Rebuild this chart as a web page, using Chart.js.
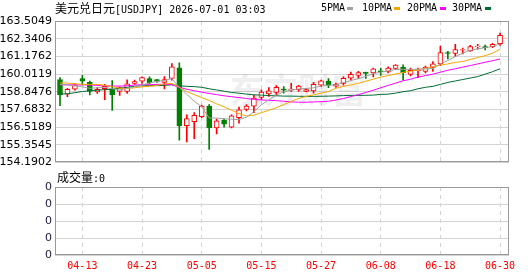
<!DOCTYPE html>
<html lang="zh-CN">
<head>
<meta charset="UTF-8">
<title>美元兑日元 USDJPY</title>
<script src="https://cdn.jsdelivr.net/npm/chart.js@4"></script>
<style>
    body { margin: 0; background: #fff; width: 530px; height: 276px; position: relative; overflow: hidden; }
    canvas { position: absolute; left: 0; }
    #main { top: 0; }
    #vol { top: 170px; }
    .lbl { position: absolute; white-space: nowrap; font-family: "DejaVu Sans Mono", monospace; font-size: 10px; line-height: 14px; color: #000; z-index: 2; }
    .cjk { font-family: "Noto Sans CJK SC", sans-serif; font-size: 12px; }
    .sw { position: absolute; top: 7px; width: 6px; height: 3px; z-index: 2; }
</style>
</head>
<body>
<canvas id="main" width="530" height="172"></canvas>
<canvas id="vol" width="530" height="106"></canvas>

<div class="lbl" style="left:55px; top:1px;"><span class="cjk">美元兑日元</span>[USDJPY] 2026-07-01 03:03</div>
<div class="lbl" style="left:321px; top:1px;">5PMA</div><div class="sw" style="left:347px; background:#a0a0a0;"></div>
<div class="lbl" style="left:362px; top:1px;">10PMA</div><div class="sw" style="left:394px; background:#f5a700;"></div>
<div class="lbl" style="left:407px; top:1px;">20PMA</div><div class="sw" style="left:440px; background:#ff00ff;"></div>
<div class="lbl" style="left:452px; top:1px;">30PMA</div><div class="sw" style="left:485px; background:#006b33;"></div>
<div class="lbl" style="left:57px; top:170px;"><span class="cjk">成交量</span>:0</div>

<script>
// trading days shown
const dates = ['04-08','04-09','04-10','04-13','04-14','04-15','04-16','04-17','04-20','04-21',
    '04-22','04-23','04-24','04-27','04-28','04-29','04-30','05-01','05-04','05-05',
    '05-06','05-07','05-08','05-11','05-12','05-13','05-14','05-15','05-18','05-19',
    '05-20','05-21','05-22','05-25','05-26','05-27','05-28','05-29','06-01','06-02',
    '06-03','06-04','06-05','06-08','06-09','06-10','06-11','06-12','06-15','06-16',
    '06-17','06-18','06-19','06-22','06-23','06-24','06-25','06-26','06-29','06-30'];

const xTickLabels = ['04-13','04-23','05-05','05-15','05-27','06-08','06-18','06-30'];
const yTickLabels = ['154.1902','155.3545','156.5189','157.6832','158.8476','160.0119','161.1762','162.3406','163.5049'];
const volTickLabels = ['0','0','0','0','0'];

const open = [159.651,158.687,159.008,159.715,159.458,158.835,159.053,159.027,158.860,158.860,
    159.393,159.541,159.715,159.650,159.458,159.715,160.422,156.612,156.869,157.210,
    157.897,156.458,156.972,156.503,157.145,157.678,157.897,158.475,158.706,158.796,
    159.027,158.944,158.963,158.860,158.899,159.284,159.541,159.220,159.393,159.734,
    159.927,160.120,160.081,160.229,160.184,160.377,160.466,159.991,160.229,160.184,
    160.441,160.678,161.430,161.366,161.578,161.533,161.816,161.816,161.816,162.008];
const high = [159.779,159.073,159.374,159.927,159.541,159.117,159.329,159.586,159.156,159.631,
    159.607,159.824,159.824,159.670,159.843,160.698,160.743,157.319,157.466,157.961,
    158.000,157.036,157.036,157.319,157.833,158.000,158.603,158.963,159.117,159.246,
    159.181,159.393,159.265,159.073,159.458,159.606,159.715,159.413,159.824,160.145,
    160.184,160.140,160.402,160.402,160.486,160.634,160.614,160.402,160.402,160.531,
    160.826,161.854,161.514,161.963,161.726,161.899,161.963,161.918,162.028,162.715];
const low = [157.935,158.514,158.944,159.329,158.642,158.732,158.321,157.614,158.603,158.732,
    159.329,159.393,159.374,159.458,159.027,159.606,155.648,155.539,155.751,157.145,
    155.045,156.072,156.503,156.458,156.779,157.576,157.466,158.321,158.539,158.603,
    158.751,158.860,158.860,158.835,158.751,159.181,159.117,159.137,159.284,159.606,
    159.715,159.715,159.824,159.927,160.081,160.312,159.606,159.888,159.779,160.081,
    160.184,160.569,161.000,161.173,161.340,161.494,161.642,161.597,161.751,161.899];
const close = [158.642,159.008,159.284,159.541,158.860,159.008,159.201,158.642,159.117,159.374,
    159.522,159.779,159.438,159.522,159.650,160.486,156.612,157.081,157.293,157.897,
    156.458,156.933,156.715,157.255,157.659,157.897,158.430,158.816,158.899,159.137,
    158.944,159.027,159.220,158.989,159.329,159.567,159.284,159.329,159.734,159.991,
    160.100,160.055,160.357,160.165,160.402,160.595,160.100,160.248,160.312,160.466,
    160.678,161.430,161.366,161.623,161.623,161.816,161.855,161.751,161.963,162.561];

// moving averages
const ma5 = [159.329,159.297,159.233,159.169,159.072,159.105,159.137,159.040,158.963,159.072,
    159.169,159.284,159.426,159.522,159.586,159.715,159.137,158.674,158.224,157.852,
    157.113,157.113,157.062,157.036,157.004,157.177,157.531,157.980,158.321,158.623,
    158.841,158.957,159.034,159.060,159.105,159.220,159.272,159.297,159.445,159.586,
    159.702,159.856,160.042,160.132,160.216,160.312,160.325,160.306,160.332,160.351,
    160.377,160.678,160.903,161.160,161.385,161.578,161.668,161.745,161.822,162.002];
const ma10 = [159.426,159.413,159.374,159.329,159.329,159.329,159.265,159.181,159.072,159.053,
    159.105,159.169,159.201,159.265,159.361,159.394,159.137,158.848,158.655,158.462,
    158.269,158.045,157.852,157.627,157.402,157.242,157.306,157.466,157.627,157.788,
    158.000,158.218,158.398,158.539,158.642,158.751,158.861,159.072,159.201,159.297,
    159.394,159.541,159.670,159.811,159.908,160.017,160.120,160.197,160.293,160.389,
    160.486,160.595,160.678,160.775,160.839,160.968,161.096,161.225,161.385,161.642];
const ma20 = [159.297,159.297,159.297,159.297,159.285,159.265,159.233,159.220,159.220,159.233,
    159.285,159.310,159.310,159.329,159.349,159.297,159.137,159.008,158.912,158.815,
    158.732,158.655,158.578,158.514,158.462,158.398,158.347,158.301,158.282,158.256,
    158.218,158.173,158.154,158.154,158.173,158.192,158.218,158.301,158.398,158.526,
    158.655,158.796,158.944,159.105,159.265,159.413,159.567,159.670,159.811,159.908,
    160.004,160.133,160.261,160.357,160.466,160.569,160.678,160.788,160.890,161.000];
const ma30 = [158.706,158.706,158.783,158.861,158.912,158.944,158.989,159.008,159.072,159.137,
    159.201,159.233,159.246,159.246,159.265,159.310,159.246,159.201,159.181,159.137,
    159.040,158.963,158.880,158.796,158.751,158.687,158.642,158.623,158.590,158.578,
    158.558,158.558,158.546,158.539,158.539,158.546,158.558,158.571,158.590,158.603,
    158.603,158.610,158.623,158.668,158.687,158.751,158.848,158.912,159.040,159.137,
    159.201,159.329,159.458,159.554,159.651,159.747,159.843,160.004,160.164,160.357];

const volume = dates.map(() => 0);

const UP = '#ff0000';
const DOWN = '#008000';
const GRID = '#d4d4d4';
const X_MIN = -0.67, X_MAX = 60.2;

const xTickIdx = xTickLabels.map(d => dates.indexOf(d));
const isUp = close.map((c, i) => c >= open[i]);
const pts = arr => arr.map((v, i) => ({ x: i, y: v }));

// grey frame round the plot area
const frame = {
    id: 'frame',
    afterDraw(chart) {
        const { ctx, chartArea: a } = chart;
        ctx.save();
        ctx.strokeStyle = '#999';
        ctx.lineWidth = 1;
        ctx.strokeRect(Math.round(a.left) + 0.5, Math.round(a.top) + 0.5,
            Math.round(a.right - a.left) - 1, Math.round(a.bottom - a.top) - 1);
        ctx.restore();
    }
};

// faint watermark behind the candles
const watermark = {
    id: 'watermark',
    beforeDatasetsDraw(chart) {
        const { ctx } = chart;
        ctx.save();
        ctx.fillStyle = 'rgba(120,120,140,0.12)';
        ctx.font = 'bold 34px "Noto Sans CJK SC"';
        ctx.textBaseline = 'middle';
        ctx.fillText('东方财富', 230, 90);
        ctx.restore();
    }
};

const xAxis = (showLabels) => ({
    type: 'linear',
    offset: false,
    min: X_MIN,
    max: X_MAX,
    afterBuildTicks(s) { s.ticks = xTickIdx.map(v => ({ value: v })); },
    afterFit(s) { s.height = showLabels ? 21 : 0; },
    ticks: {
        display: showLabels,
        autoSkip: false,
        maxRotation: 0,
        padding: 5,
        color: '#ff0000',
        font: { family: 'DejaVu Sans Mono', size: 10 },
        callback: (v, i) => xTickLabels[i]
    },
    grid: { color: GRID, drawTicks: false, offset: false },
    border: { display: false, dash: [4, 4] }
});

new Chart(document.getElementById('main'), {
    type: 'bar',
    data: {
        datasets: [
            { type: 'line', data: pts(ma5), borderColor: '#a0a0a0', borderWidth: 1, pointRadius: 0, order: 0 },
            { type: 'line', data: pts(ma10), borderColor: '#f5a700', borderWidth: 1, pointRadius: 0, order: 0 },
            { type: 'line', data: pts(ma20), borderColor: '#ff00ff', borderWidth: 1, pointRadius: 0, order: 0 },
            { type: 'line', data: pts(ma30), borderColor: '#006b33', borderWidth: 1, pointRadius: 0, order: 0 },
            {
                type: 'bar',
                data: open.map((o, i) => ({ x: i, y: [o, close[i]] })),
                backgroundColor: isUp.map(u => u ? '#ffffff' : DOWN),
                borderColor: isUp.map(u => u ? UP : DOWN),
                borderWidth: 1,
                borderSkipped: false,
                barThickness: 5,
                grouped: false,
                order: 1
            },
            {
                type: 'bar',
                data: low.map((l, i) => ({ x: i, y: [l, high[i]] })),
                backgroundColor: isUp.map(u => u ? UP : DOWN),
                borderWidth: 0,
                barThickness: 1,
                grouped: false,
                order: 2
            }
        ]
    },
    options: {
        responsive: false,
        animation: false,
        layout: { padding: { top: 21, right: 21, bottom: 6, left: 0 } },
        plugins: { legend: { display: false }, tooltip: { enabled: false } },
        scales: {
            x: xAxis(false),
            y: {
                min: parseFloat(yTickLabels[0]),
                max: parseFloat(yTickLabels[yTickLabels.length - 1]),
                afterBuildTicks(s) { s.ticks = yTickLabels.map(t => ({ value: parseFloat(t) })); },
                afterFit(s) { s.width = 55; },
                ticks: {
                    padding: 3,
                    color: '#000',
                    font: { family: 'DejaVu Sans', size: 11 },
                    callback: (v, i) => yTickLabels[i]
                },
                grid: { color: GRID, drawTicks: false },
                border: { display: false }
            }
        }
    },
    plugins: [watermark, frame]
});

new Chart(document.getElementById('vol'), {
    type: 'bar',
    data: {
        datasets: [{ data: pts(volume), backgroundColor: '#888', barThickness: 5 }]
    },
    options: {
        responsive: false,
        animation: false,
        layout: { padding: { top: 17, right: 21, bottom: 0, left: 0 } },
        plugins: { legend: { display: false }, tooltip: { enabled: false } },
        scales: {
            x: xAxis(true),
            y: {
                min: 0,
                max: 4,
                afterBuildTicks(s) { s.ticks = volTickLabels.map((t, i) => ({ value: i })); },
                afterFit(s) { s.width = 55; },
                ticks: {
                    padding: 3,
                    color: '#1a1a40',
                    font: { family: 'DejaVu Sans', size: 11 },
                    callback: (v, i) => volTickLabels[i]
                },
                grid: { color: GRID, drawTicks: false },
                border: { display: false }
            }
        }
    },
    plugins: [frame]
});
</script>
</body>
</html>
